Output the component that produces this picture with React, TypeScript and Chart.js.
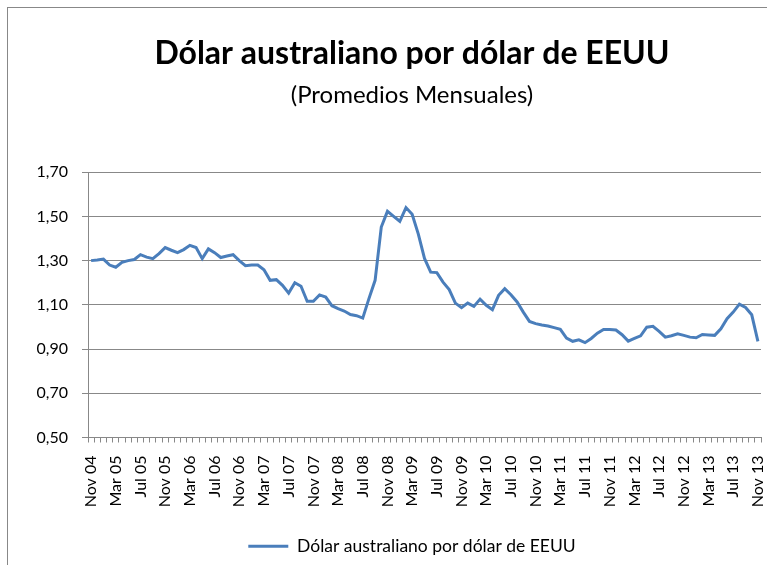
import React, { useEffect, useRef } from "react";
import { Chart, registerables } from "chart.js";

Chart.register(...registerables);

const MONTHS = ["Ene", "Feb", "Mar", "Abr", "May", "Jun", "Jul", "Ago", "Sep", "Oct", "Nov", "Dic"];

const values2004 = [1.300, 1.303];
const values2005 = [1.307, 1.280, 1.270, 1.292, 1.300, 1.305, 1.327, 1.316, 1.309, 1.332, 1.359, 1.347];
const values2006 = [1.336, 1.350, 1.369, 1.359, 1.309, 1.353, 1.336, 1.314, 1.321, 1.327, 1.300, 1.277];
const values2007 = [1.280, 1.280, 1.259, 1.211, 1.214, 1.188, 1.153, 1.200, 1.184, 1.116, 1.116, 1.145];
const values2008 = [1.135, 1.096, 1.083, 1.072, 1.056, 1.051, 1.040, 1.128, 1.211, 1.452, 1.523, 1.500];
const values2009 = [1.478, 1.540, 1.510, 1.420, 1.310, 1.248, 1.246, 1.203, 1.169, 1.108, 1.087, 1.108];
const values2010 = [1.093, 1.126, 1.098, 1.078, 1.143, 1.173, 1.146, 1.113, 1.067, 1.025, 1.015, 1.009];
const values2011 = [1.004, 0.997, 0.989, 0.950, 0.935, 0.942, 0.929, 0.948, 0.972, 0.989, 0.989, 0.986];
const values2012 = [0.965, 0.936, 0.948, 0.960, 0.999, 1.003, 0.980, 0.954, 0.960, 0.969, 0.962, 0.954];
const values2013 = [0.951, 0.966, 0.964, 0.962, 0.992, 1.037, 1.067, 1.103, 1.088, 1.055, 0.935];

const seriesValues = [
  ...values2004, ...values2005, ...values2006, ...values2007, ...values2008,
  ...values2009, ...values2010, ...values2011, ...values2012, ...values2013,
];

// Monthly categories from Nov 2004 to Nov 2013
const categories: string[] = seriesValues.map((_, i) => {
  const m = (10 + i) % 12;
  const y = 2004 + Math.floor((10 + i) / 12);
  return `${MONTHS[m]} ${String(y % 100).padStart(2, "0")}`;
});

const yTicks = [0.5, 0.7, 0.9, 1.1, 1.3, 1.5, 1.7];

const TITLE = "Dólar australiano por dólar de EEUU";
const SUBTITLE = "(Promedios Mensuales)";
const SERIES_NAME = "Dólar australiano por dólar de EEUU";

const FONT = "Lato, 'Open Sans', sans-serif";
const GRID = "#888888";
const LINE = "#4A7EBB";

const CANVAS_W = 824;
const CANVAS_H = 565;
const RIGHT_SPACE = CANVAS_W - 761;

export default function App() {
  const ref = useRef<HTMLCanvasElement | null>(null);

  useEffect(() => {
    if (!ref.current) return;
    Chart.defaults.font.family = FONT;
    const chart = new Chart(ref.current, {
      type: "line",
      data: {
        labels: categories,
        datasets: [
          {
            label: SERIES_NAME,
            data: seriesValues,
            borderColor: LINE,
            backgroundColor: LINE,
            borderWidth: 3,
            pointRadius: 0,
            tension: 0,
            fill: false,
            xAxisID: "x",
            yAxisID: "y",
          },
        ],
      },
      options: {
        responsive: false,
        animation: false,
        layout: { padding: { left: 0, right: 0, top: 0, bottom: 0 } },
        plugins: {
          title: {
            display: true,
            text: TITLE,
            color: "#000",
            font: { size: 32, weight: "bold", family: FONT },
            padding: { top: 34, bottom: 0 },
          },
          subtitle: {
            display: true,
            text: SUBTITLE,
            color: "#000",
            font: { size: 24, weight: "normal", family: FONT },
            padding: { top: 8, bottom: 63 },
          },
          legend: {
            display: true,
            position: "bottom",
            labels: {
              color: "#000",
              font: { size: 17.5, family: FONT },
              usePointStyle: true,
              pointStyle: "line",
              pointStyleWidth: 40,
              padding: 10,
            },
          },
          tooltip: { enabled: false },
        },
        scales: {
          x: {
            type: "category",
            offset: true,
            grid: {
              display: true,
              drawOnChartArea: false,
              drawTicks: true,
              tickLength: 5,
              color: GRID,
              offset: true,
            },
            border: { display: true, color: GRID, width: 1 },
            ticks: {
              autoSkip: false,
              maxRotation: 90,
              minRotation: 90,
              padding: 13,
              color: "#000",
              font: { size: 16, family: FONT },
              callback: function (_v: any, index: number) {
                return index % 4 === 0 ? categories[index] : "";
              },
            },
            afterFit: (scale: any) => {
              scale.height = 90;
              scale.paddingLeft = 0;
              scale.paddingRight = 0;
            },
          },
          y: {
            position: "left",
            min: 0.5,
            max: 1.7,
            afterBuildTicks: (scale: any) => {
              scale.ticks = yTicks.map((v) => ({ value: v }));
            },
            grid: {
              display: true,
              drawTicks: true,
              tickLength: 6,
              color: GRID,
            },
            border: { display: true, color: GRID, width: 1 },
            ticks: {
              padding: 14,
              color: "#000",
              font: { size: 16, family: FONT },
              callback: (v: any) => Number(v).toFixed(2).replace(".", ","),
            },
            afterFit: (scale: any) => {
              scale.width = 88;
            },
          },
          spacer: {
            type: "linear",
            position: "right",
            display: true,
            grid: { display: false, drawTicks: false },
            border: { display: false },
            ticks: { display: false },
            afterFit: (scale: any) => {
              scale.width = RIGHT_SPACE;
              scale.paddingTop = 0;
              scale.paddingBottom = 0;
            },
          },
        },
      },
    });
    return () => chart.destroy();
  }, []);

  return (
    <div style={{ position: "absolute", left: 0, top: 0, width: 767, height: 565, overflow: "hidden", background: "#fff" }}>
      <div
        style={{
          position: "absolute",
          left: 7,
          top: 7,
          width: 800,
          height: 600,
          borderLeft: "1px solid #888888",
          borderTop: "1px solid #888888",
          boxSizing: "border-box",
        }}
      />
      <canvas ref={ref} width={CANVAS_W} height={CANVAS_H} style={{ position: "absolute", left: 0, top: 0 }} />
    </div>
  );
}
